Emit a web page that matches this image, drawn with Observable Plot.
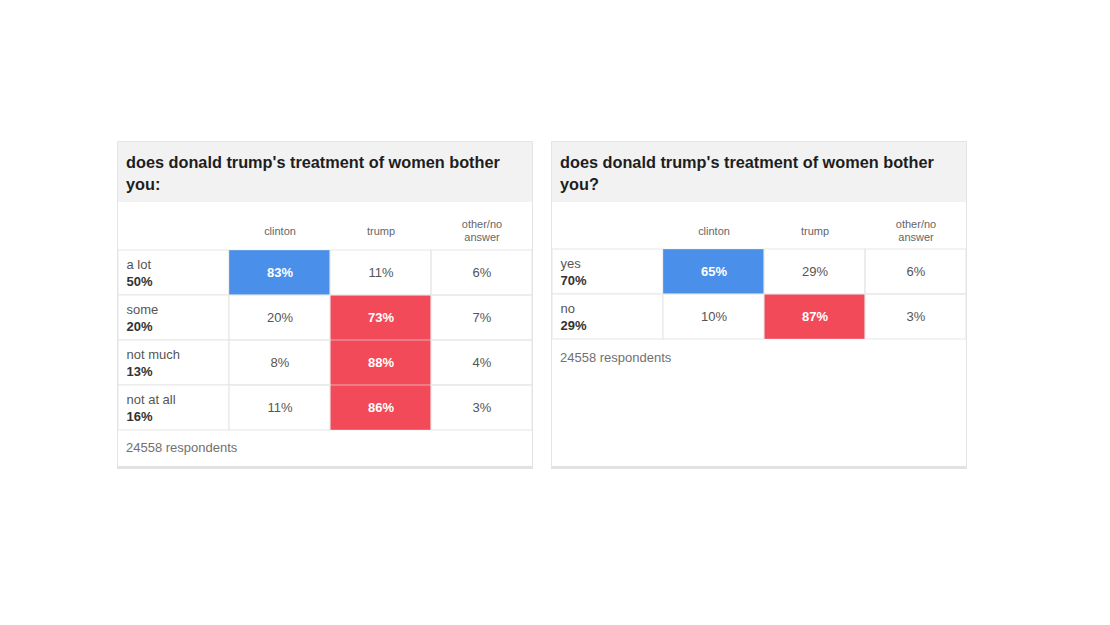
<!DOCTYPE html>
<html>
<head>
<meta charset="utf-8">
<script src="https://cdn.jsdelivr.net/npm/d3@7"></script>
<script src="https://cdn.jsdelivr.net/npm/@observablehq/plot@0.6"></script>
<style>
  html, body { margin: 0; padding: 0; background: #fff; width: 1110px; height: 625px; overflow: hidden; }
  body { font-family: "Liberation Sans", Arial, Helvetica, sans-serif; position: relative; }
  .panel { position: absolute; top: 141px; width: 414px; border: 1px solid #e4e4e4; border-bottom: 3px solid #e2e2e2; background: #fff; }
  .title { background: #f2f2f2; height: 51px; padding: 9px 16px 0 8px; font-weight: bold; font-size: 16.3px; line-height: 22px; color: #1e1e1e; box-sizing: content-box; }
  .grid { display: flex; }
  .grid svg { display: block; }
  .footer { font-size: 13px; color: #707070; padding: 10px 0 0 8px; box-sizing: border-box; }
</style>
</head>
<body>
<div id="p1" class="panel" style="left:117px"></div>
<div id="p2" class="panel" style="left:551px"></div>
<script>
// ---- data ----
const columns = ["clinton", "trump", "other/no\nanswer"];

const title1 = "does donald trump's treatment of women bother you:";
const rows1 = ["a lot", "some", "not much", "not at all"];
const share1 = ["50%", "20%", "13%", "16%"];
const clinton1 = [83, 20, 8, 11];
const trump1 = [11, 73, 88, 86];
const other1 = [6, 7, 4, 3];

const title2 = "does donald trump's treatment of women bother you?";
const rows2 = ["yes", "no"];
const share2 = ["70%", "29%"];
const clinton2 = [65, 10];
const trump2 = [29, 87];
const other2 = [6, 3];

const respondents = "24558 respondents";

const winColor = {"clinton": "#4a8fe9", "trump": "#f24a59"};
const font = '"Liberation Sans", Arial, Helvetica, sans-serif';

function buildPanel(id, title, rows, share, clinton, trump, other, footerH) {
  const el = document.getElementById(id);
  const t = document.createElement("div");
  t.className = "title";
  t.textContent = title;
  el.appendChild(t);

  const cells = [];
  rows.forEach((r, i) => {
    const vals = [clinton[i], trump[i], other[i]];
    const max = Math.max(...vals);
    vals.forEach((v, j) => cells.push({row: r, col: columns[j], value: v, win: v === max && !!winColor[columns[j]]}));
  });
  const labels = rows.map((r, i) => ({row: r, share: share[i]}));

  const headerH = 47;
  const rowH = 45.3;
  const h = headerH + rows.length * rowH;

  const grid = document.createElement("div");
  grid.className = "grid";

  const left = Plot.plot({
    width: 111, height: h,
    marginLeft: 0, marginRight: 0, marginTop: headerH, marginBottom: 0,
    y: {domain: rows, padding: 0, axis: null},
    style: {fontFamily: font, background: "transparent", overflow: "visible"},
    marks: [
      Plot.cell(labels, {y: "row", fill: "white", stroke: "#e6e6e6", strokeWidth: 1}),
      Plot.text(labels, {y: "row", text: "row", frameAnchor: "left", dx: 8, dy: -8, fontSize: 13, fill: "#555", textAnchor: "start"}),
      Plot.text(labels, {y: "row", text: "share", frameAnchor: "left", dx: 8, dy: 9, fontSize: 13, fontWeight: "bold", fill: "#333", textAnchor: "start"})
    ]
  });

  const right = Plot.plot({
    width: 303, height: h,
    marginLeft: 0, marginRight: 0, marginTop: headerH, marginBottom: 0,
    x: {domain: columns, padding: 0, axis: null},
    y: {domain: rows, padding: 0, axis: null},
    style: {fontFamily: font, background: "transparent", overflow: "visible"},
    marks: [
      Plot.text(columns, {x: d => d, text: d => d, frameAnchor: "top", dy: -19, lineAnchor: "middle", lineHeight: 1.18, fontSize: 11, fill: "#666"}),
      Plot.cell(cells, {x: "col", y: "row", fill: d => d.win ? winColor[d.col] : "white"}),
      Plot.cell(cells, {x: "col", y: "row", fill: "none", stroke: "#e6e6e6", strokeOpacity: d => d.win ? 0.35 : 1, strokeWidth: 1}),
      Plot.text(cells.filter(d => !d.win), {x: "col", y: "row", text: d => d.value + "%", fontSize: 13, fill: "#555"}),
      Plot.text(cells.filter(d => d.win), {x: "col", y: "row", text: d => d.value + "%", fontSize: 13, fontWeight: "bold", fill: "white"})
    ]
  });

  grid.appendChild(left);
  grid.appendChild(right);
  el.appendChild(grid);

  const f = document.createElement("div");
  f.className = "footer";
  f.style.height = footerH + "px";
  f.textContent = respondents;
  el.appendChild(f);
}

buildPanel("p1", title1, rows1, share1, clinton1, trump1, other1, 36);
buildPanel("p2", title2, rows2, share2, clinton2, trump2, other2, 126.6);
</script>
</body>
</html>
